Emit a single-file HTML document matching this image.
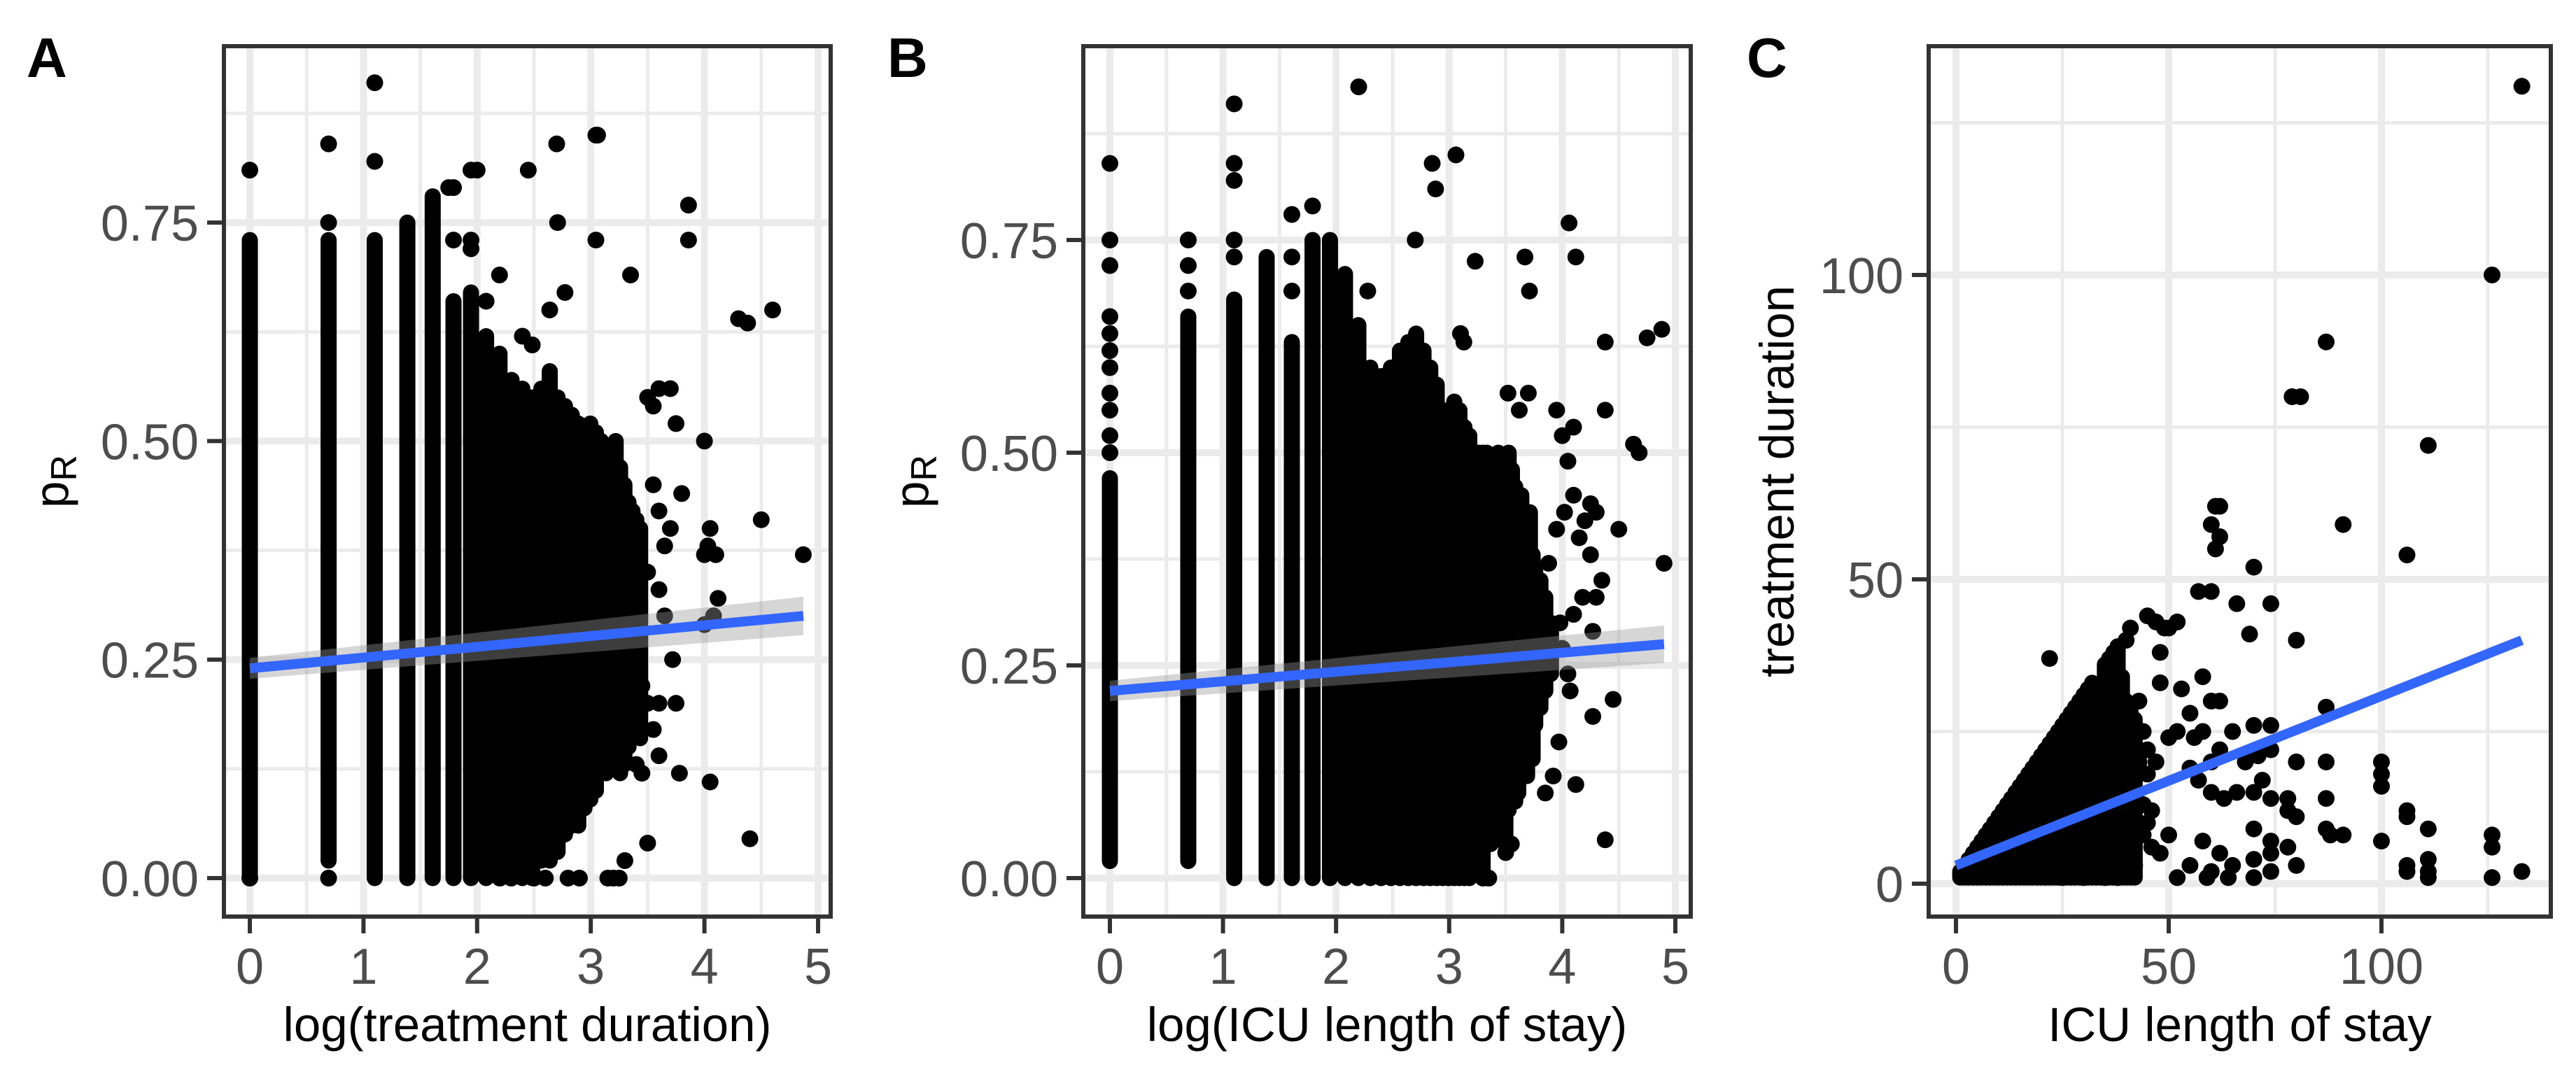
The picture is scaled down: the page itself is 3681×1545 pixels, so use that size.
<!DOCTYPE html>
<html><head><meta charset="utf-8"><style>
html,body{margin:0;padding:0;background:#fff;}
svg{display:block;font-family:"Liberation Sans",Arial,sans-serif;}
</style></head><body>
<svg id="fig" width="3681" height="1545" viewBox="0 0 3681 1545" xmlns="http://www.w3.org/2000/svg"></svg>
<script>
// ---------- Panel A data: log(treatment duration) vs pR ----------
const aColX  = [0,0.693,1.099,1.386,1.609,1.792,1.946,2.079,2.197,2.303,2.398,2.485,2.565,2.639,2.708,2.773,2.833,2.890,2.944,2.996,3.045,3.091,3.135,3.178,3.219,3.258,3.296,3.332,3.367,3.401,3.434];
const aColLo = [0,0.02,0,0,0,0,0,0,0,0,0,0,0.02,0.02,0.03,0.05,0.06,0.06,0.08,0.09,0.10,0.12,0.12,0.13,0.14,0.12,0.13,0.15,0.18,0.17,0.16];
const aColHi = [0.73,0.73,0.73,0.75,0.78,0.66,0.67,0.62,0.60,0.57,0.56,0.55,0.56,0.58,0.55,0.54,0.53,0.52,0.50,0.52,0.51,0.50,0.48,0.49,0.50,0.47,0.45,0.43,0.42,0.41,0.40];
const aPtX = [0,0,0.693,0.693,0.693,1.099,1.099,1.792,1.792,1.946,1.946,1.946,2.079,2.197,2.398,2.485,2.639,2.708,2.773,3.045,3.045,3.5,3.55,3.6,3.7,3.75,3.8,3.7,3.65,3.72,3.6,3.75,3.78,4.0,4.0,4.03,4.05,4.1,4.08,4.12,4.0,4.05,3.5,3.86,3.86,3.35,4.3,4.38,4.6,4.5,4.87,4.4,3.6,3.55,2.45,2.0,2.7,3.06,1.75,2.4,3.2,3.25,3.15,3.3,2.8,2.9,2.6,2.5,2.3,2.2,3.4,3.45,3.5,3.45,3.55,3.6,3.65,3.5,3.6];
const aPtY = [0.81,0,0.84,0.75,0,0.82,0.91,0.73,0.79,0.72,0.73,0.81,0.66,0.69,0.62,0.61,0.65,0.75,0.67,0.73,0.85,0.55,0.54,0.56,0.56,0.52,0.44,0.40,0.30,0.25,0.20,0.20,0.12,0.50,0.37,0.38,0.40,0.37,0.30,0.32,0.29,0.11,0.04,0.77,0.73,0.69,0.64,0.635,0.65,0.41,0.37,0.045,0.14,0.17,0.81,0.81,0.84,0.85,0.79,0.04,0,0,0,0.02,0,0,0,0,0,0,0.13,0.12,0.20,0.22,0.45,0.42,0.38,0.35,0.33];
const aFit = [0.240, 0.300];
const aFitX = [0, 4.87];
const aCI = [0.012, 0.022];

// ---------- Panel B data: log(ICU length of stay) vs pR ----------
const bColX  = [0,0.693,1.099,1.386,1.609,1.792,1.946,2.079,2.197,2.303,2.398,2.485,2.565,2.639,2.708,2.773,2.833,2.890,2.944,2.996,3.045,3.091,3.135,3.178,3.219,3.258,3.296,3.332,3.367,3.401,3.434,3.466,3.497,3.526,3.555,3.584,3.611,3.638,3.664,3.689,3.714,3.738,3.761,3.807,3.850,3.900];
const bColLo = [0.02,0.02,0,0,0,0,0,0,0,0,0,0,0,0,0,0,0,0,0,0,0,0,0,0,0.01,0.02,0,0.04,0.04,0.05,0.06,0.06,0.04,0.08,0.10,0.09,0.10,0.12,0.13,0.12,0.15,0.14,0.18,0.20,0.22,0.24];
const bColHi = [0.47,0.66,0.68,0.73,0.63,0.75,0.75,0.71,0.65,0.60,0.59,0.60,0.62,0.63,0.64,0.62,0.60,0.58,0.55,0.55,0.56,0.55,0.53,0.52,0.50,0.50,0.50,0.50,0.48,0.47,0.50,0.48,0.46,0.50,0.48,0.46,0.44,0.45,0.42,0.40,0.43,0.38,0.36,0.35,0.33,0.30];
const bPtX = [0,0,0,0,0,0,0,0,0,0,0,0.693,0.693,0.693,1.099,1.099,1.099,1.099,1.099,1.609,1.609,1.609,1.792,3.67,3.71,4.06,4.12,3.23,4.38,4.75,4.88,2.7,2.85,2.88,3.06,3.1,3.13,2.28,2.2,3.7,3.52,3.62,3.95,4.0,4.1,4.05,4.38,4.63,4.68,4.9,4.5,4.3,4.25,4.2,4.15,4.25,4.3,4.35,4.27,4.45,4.27,4.12,4.38,3.97,3.92,3.85,3.55,3.5,4.05,4.07,3.98,4.0,4.1,4.18,3.88,3.95,4.02,4.1,3.35,3.3];
const bPtY = [0.50,0.52,0.55,0.57,0.60,0.62,0.64,0.66,0.72,0.75,0.84,0.69,0.72,0.75,0.73,0.75,0.82,0.84,0.91,0.69,0.73,0.78,0.79,0.73,0.69,0.77,0.73,0.725,0.63,0.635,0.645,0.75,0.84,0.81,0.85,0.64,0.63,0.69,0.93,0.57,0.57,0.55,0.55,0.52,0.53,0.49,0.55,0.51,0.50,0.37,0.41,0.43,0.44,0.42,0.40,0.38,0.33,0.35,0.29,0.21,0.19,0.11,0.045,0.16,0.12,0.10,0.04,0.03,0.24,0.22,0.30,0.27,0.31,0.33,0.37,0.41,0.43,0.45,0,0];
const bFit = [0.220, 0.275];
const bFitX = [0, 4.9];
const bCI = [0.012, 0.022];

// ---------- Panel C data: ICU length of stay vs treatment duration ----------
const cColX  = [1,2,3,4,5,6,7,8,9,10,11,12,13,14,15,16,17,18,19,20,21,22,23,24,25,26,27,28,29,30,31,32,33,34,35,36,37,38,39,40,41,42];
const cColHi = [2,3,4,5,6,7,8,9,10,11,12,13,14,15,16,17,18,19,20,21,22,23,24,25,26,27,28,29,30,31,32,33,32,31,36,37,38,39,34,30,29,27];
const cPtX = [22,45,47,49,52,48,50,48,53,58,60,62,55,50,45,47,52,56,58,60,62,55,57,60,63,66,70,68,69,65,70,71,74,74,72,74,78,78,80,70,74,74,78,80,70,65,60,62,58,55,52,59,64,70,74,48,50,45,42,40,43,44,46,42,38,35,25,30,60,61,62,60,61,62,57,66,69,70,74,80,80,87,87,87,87,88,91,79,81,87,91,106,111,126,133,100,100,100,100,106,106,111,106,106,111,111,111,126,126,126,133,40,41,44,45,46,43,44];
const cPtY = [37,44,43,42,43,38,42,33,32,34,30,30,28,24,22,20,25,24,25,20,22,19,17,15,14,15,15,20,21,25,26,21,26,22,17,14,14,12,11,9,7,5,6,3,4,3,2,5,7,3,1,1,1,1,2,5,8,10,15,20,20,13,6,3,1,1,1,1,48,55,57,59,62,62,48,46,41,52,46,40,20,29,20,14,9,8,8,80,80,89,59,54,72,100,131,20,18,16,7,12,11,9,2,3,4,2,1,8,6,1,2,40,42,25,18,12,30,8];
const cFit = [3.0, 40.0];
const cFitX = [0, 133];

// ---------- tick labels ----------
const abXTicks = [0,1,2,3,4,5];
const abXMinor = [0.5,1.5,2.5,3.5,4.5];
const abYTicks = [0,0.25,0.5,0.75];
const abYLabels = ["0.00","0.25","0.50","0.75"];
const abYMinor = [0.125,0.375,0.625,0.875];
const cTicks = [0,50,100];
const cMinor = [25,75,125];

const NS = "http://www.w3.org/2000/svg";
const svg = document.getElementById('fig');
function mk(tag, attrs, parent){
  const e = document.createElementNS(NS, tag);
  for (const k in attrs) e.setAttribute(k, attrs[k]);
  (parent||svg).appendChild(e);
  return e;
}

const panels = [
  {id:'a', letter:'A', L:320, R:1187, T:66, B:1310, x0:357, xs:162.4, y0:1255, ys:1249.2,
   xt:abXTicks, xm:abXMinor, yt:abYTicks, yl:abYLabels, ym:abYMinor, xtitle:'log(treatment duration)', letterX:38, ytx:97,
   colX:aColX, colLo:aColLo, colHi:aColHi, ptX:aPtX, ptY:aPtY, fit:aFit, fitX:aFitX, ci:aCI, pr:true},
  {id:'b', letter:'B', L:1548, R:2416, T:66, B:1310, x0:1586, xs:161.6, y0:1255, ys:1216,
   xt:abXTicks, xm:abXMinor, yt:abYTicks, yl:abYLabels, ym:abYMinor, xtitle:'log(ICU length of stay)', letterX:1268, ytx:1326,
   colX:bColX, colLo:bColLo, colHi:bColHi, ptX:bPtX, ptY:bPtY, fit:bFit, fitX:bFitX, ci:bCI, pr:true},
  {id:'c', letter:'C', L:2756, R:3645, T:66, B:1310, x0:2795, xs:6.08, y0:1263, ys:8.70,
   xt:cTicks, xm:cMinor, yt:cTicks, yl:cTicks.map(String), ym:cMinor, xtitle:'ICU length of stay', letterX:2496, ytx:2563,
   colX:cColX, colLo:cColX.map(()=>1), colHi:cColHi, ptX:cPtX, ptY:cPtY, fit:cFit, fitX:cFitX, ci:null, pr:false}
];

panels.forEach(p => {
  const g = mk('g', {});
  
  
  const sx = v => p.x0 + v*p.xs;
  const sy = v => p.y0 - v*p.ys;
  const clipId = 'clip-' + p.id;
  const cp = mk('clipPath', {id: clipId}, g);
  mk('rect', {x:p.L, y:p.T, width:p.R-p.L, height:p.B-p.T}, cp);
  const grid = mk('g', {'clip-path':'url(#'+clipId+')'}, g);
  
  
  p.xm.forEach(v => mk('line', {x1:sx(v), x2:sx(v), y1:p.T, y2:p.B, stroke:'#EBEBEB', 'stroke-width':5}, grid));
  p.ym.forEach(v => mk('line', {x1:p.L, x2:p.R, y1:sy(v), y2:sy(v), stroke:'#EBEBEB', 'stroke-width':5}, grid));
  p.xt.forEach(v => mk('line', {x1:sx(v), x2:sx(v), y1:p.T, y2:p.B, stroke:'#EBEBEB', 'stroke-width':10}, grid));
  p.yt.forEach(v => mk('line', {x1:p.L, x2:p.R, y1:sy(v), y2:sy(v), stroke:'#EBEBEB', 'stroke-width':10}, grid));
  const pts = mk('g', {'clip-path':'url(#'+clipId+')', fill:'#000'}, g);
  
  
  p.colX.forEach((x, i) => {
    const ln = mk('line', {x1:sx(x), x2:sx(x), y1:sy(p.colLo[i]), y2:sy(p.colHi[i]), stroke:'#000', 'stroke-width':23, 'stroke-linecap':'round'}, pts);
    
    
  });
  p.ptX.forEach((x, i) => {
    const c = mk('circle', {cx:sx(x), cy:sy(p.ptY[i]), r:12}, pts);
    
    
  });
  if (p.ci) {
    const x1 = sx(p.fitX[0]), x2 = sx(p.fitX[1]);
    const band = mk('polygon', {points:
      x1+','+sy(p.fit[0]+p.ci[0])+' '+x2+','+sy(p.fit[1]+p.ci[1])+' '+x2+','+sy(p.fit[1]-p.ci[1])+' '+x1+','+sy(p.fit[0]-p.ci[0]),
      fill:'#999', 'fill-opacity':0.4}, g);
    
    
  }
  const fl = mk('line', {x1:sx(p.fitX[0]), y1:sy(p.fit[0]), x2:sx(p.fitX[1]), y2:sy(p.fit[1]), stroke:'#3366FF', 'stroke-width':14}, g);
  
  
  const br = mk('rect', {x:p.L, y:p.T, width:p.R-p.L, height:p.B-p.T, fill:'none', stroke:'#333333', 'stroke-width':6}, g);
  
  
  p.xt.forEach(v => {
    mk('line', {x1:sx(v), x2:sx(v), y1:p.B, y2:p.B+24, stroke:'#333333', 'stroke-width':6}, g);
    const t = mk('text', {x:sx(v), y:1406, 'text-anchor':'middle', 'font-size':72, fill:'#4D4D4D'}, g);
    t.textContent = String(v);
    
    
  });
  p.yt.forEach((v, i) => {
    mk('line', {x1:p.L-24, x2:p.L, y1:sy(v), y2:sy(v), stroke:'#333333', 'stroke-width':6}, g);
    const t = mk('text', {x:p.L-36, y:sy(v)+26, 'text-anchor':'end', 'font-size':72, fill:'#4D4D4D'}, g);
    t.textContent = p.yl[i];
    
    
  });
  const xt = mk('text', {x:(p.L+p.R)/2, y:1488, 'text-anchor':'middle', 'font-size':69, fill:'#000'}, g);
  xt.textContent = p.xtitle;
  
  
  const cy = (p.T+p.B)/2;
  const yt = mk('text', {x:p.ytx, y:cy, 'text-anchor':'middle', 'font-size':69, fill:'#000', transform:'rotate(-90 '+p.ytx+' '+cy+')'}, g);
  
  
  if (p.pr) {
    const s1 = mk('tspan', {}, yt); s1.textContent = 'p';
    const s2 = mk('tspan', {'font-size':52, dy:12}, yt); s2.textContent = 'R';
  } else {
    yt.textContent = 'treatment duration';
  }
  const lt = mk('text', {x:p.letterX, y:110, 'font-size':80, 'font-weight':'bold', fill:'#000'}, g);
  lt.textContent = p.letter;
  
  
});
</script>
</body></html>
